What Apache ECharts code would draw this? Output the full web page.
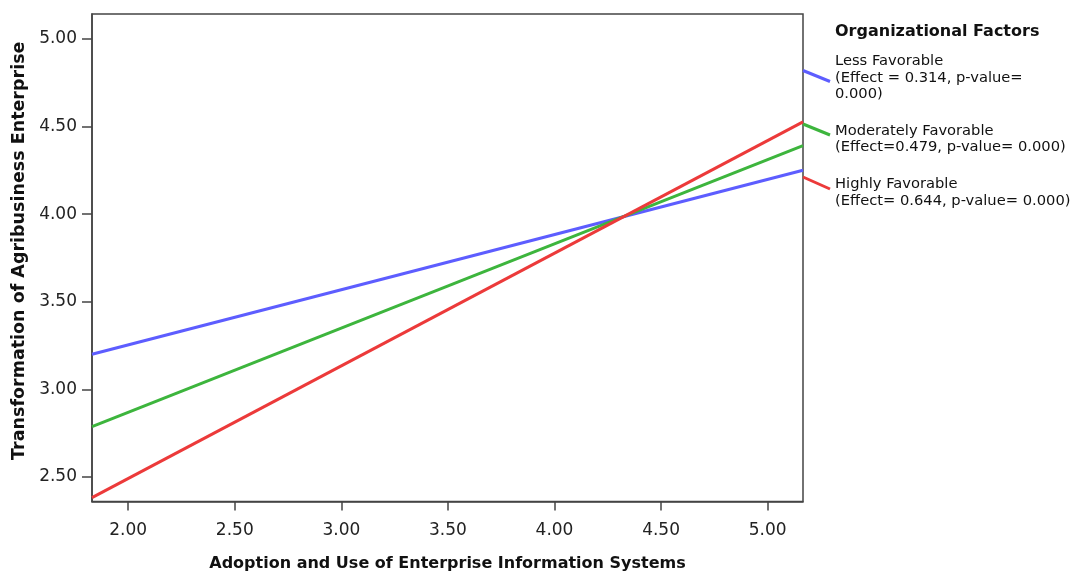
<!DOCTYPE html>
<html>
<head>
<meta charset="utf-8">
<script src="https://cdn.jsdelivr.net/npm/echarts@6/dist/echarts.min.js"></script>
<style>html,body{margin:0;padding:0;background:#fff}#c{width:1075px;height:572px}</style>
</head>
<body>
<div id="c"></div>
<script>
// ---- data ----
const xEnds = [1.83, 5.166];
const lessFavorable = [3.201, 4.251];
const moderatelyFavorable = [2.787, 4.392];
const highlyFavorable = [2.382, 4.527];
const xTicks = [2.0, 2.5, 3.0, 3.5, 4.0, 4.5, 5.0];
const yTicks = [2.5, 3.0, 3.5, 4.0, 4.5, 5.0];
const seriesNames = ['Less Favorable', 'Moderately Favorable', 'Highly Favorable'];
const seriesNotes = ['(Effect = 0.314, p-value=\n0.000)', '(Effect=0.479, p-value= 0.000)', '(Effect= 0.644, p-value= 0.000)'];
const legendTitle = 'Organizational Factors';
const xTitle = 'Adoption and Use of Enterprise Information Systems';
const yTitle = 'Transformation of Agribusiness Enterprise';
const colors = ['#5d5dff', '#3db53d', '#ec3a3a'];

const FONT = 'DejaVu Sans';
const chart = echarts.init(document.getElementById('c'), null, {renderer: 'canvas'});
const toPairs = ys => xEnds.map((x, i) => [x, ys[i]]);
const allSeries = [lessFavorable, moderatelyFavorable, highlyFavorable];

// legend graphics (slanted line markers like SPSS)
const legendTops = [53.5, 123, 176.5];
const markerY = [[70.5, 81.5], [124, 135], [177, 189]];
const graphics = [{
  type: 'text', left: 835, top: 24,
  style: {text: legendTitle, font: 'bold 16px "' + FONT + '"', fill: '#111'}
}];
seriesNames.forEach((n, i) => {
  graphics.push({
    type: 'line', shape: {x1: 803, y1: markerY[i][0], x2: 830, y2: markerY[i][1]},
    style: {stroke: colors[i], lineWidth: 3}
  });
  graphics.push({
    type: 'text', left: 835, top: legendTops[i],
    style: {text: n + '\n' + seriesNotes[i], font: '14.7px "' + FONT + '"', fill: '#111', lineHeight: 16.3}
  });
});

chart.setOption({
  animation: false,
  backgroundColor: '#fff',
  grid: {left: 92, top: 14, right: 272, bottom: 70.5, containLabel: false, outerBoundsMode: 'none',
    show: true, borderColor: '#444', borderWidth: 1.5, backgroundColor: 'transparent'},
  xAxis: {
    type: 'value', min: xEnds[0], max: xEnds[1],
    name: xTitle, nameLocation: 'middle', nameGap: 54.5,
    nameTextStyle: {fontFamily: FONT, fontWeight: 'bold', fontSize: 16, color: '#111'},
    axisLine: {show: true, onZero: false, lineStyle: {color: '#444', width: 1.5}},
    axisTick: {show: true, length: 9, inside: false, customValues: xTicks, lineStyle: {color: '#444', width: 1.5}},
    axisLabel: {customValues: xTicks, formatter: v => v.toFixed(2), fontFamily: FONT, fontSize: 17, color: '#222', margin: 21},
    splitLine: {show: false}
  },
  yAxis: {
    type: 'value', min: 2.36, max: 5.143,
    name: yTitle, nameLocation: 'middle', nameGap: 62,
    nameTextStyle: {fontFamily: FONT, fontWeight: 'bold', fontSize: 17.5, color: '#111', padding: [0, 0, 0, 14]},
    axisLine: {show: true, onZero: false, lineStyle: {color: '#444', width: 1.5}},
    axisTick: {show: true, length: 10, inside: false, customValues: yTicks, lineStyle: {color: '#444', width: 1.5}},
    axisLabel: {customValues: yTicks, formatter: v => v.toFixed(2), fontFamily: FONT, fontSize: 17, color: '#222', margin: 15},
    splitLine: {show: false}
  },
  series: allSeries.map((ys, i) => ({
    name: seriesNames[i], type: 'line', data: toPairs(ys),
    showSymbol: false, symbol: 'none', clip: true,
    lineStyle: {color: colors[i], width: 3}, itemStyle: {color: colors[i]}
  })),
  graphic: graphics
});
</script>
</body>
</html>
